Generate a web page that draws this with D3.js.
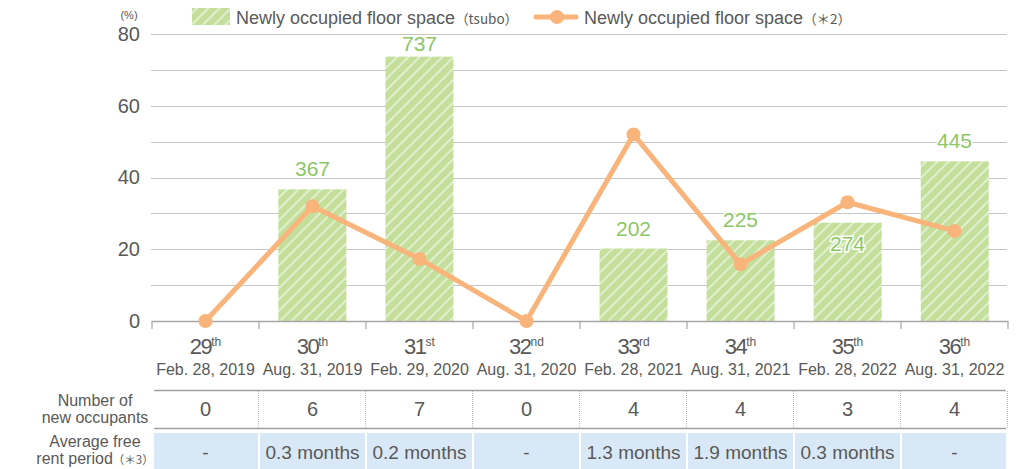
<!DOCTYPE html>
<html>
<head>
<meta charset="utf-8">
<script src="https://cdn.jsdelivr.net/npm/d3@7"></script>
<style>
  html, body { margin: 0; padding: 0; background: #fff; }
  svg { display: block; font-family: "Liberation Sans", Arial, Helvetica, sans-serif; }
  .cjk { font-family: "Noto Sans CJK JP", "Liberation Sans", sans-serif; }
</style>
</head>
<body>
<svg id="chart" width="1025" height="469"></svg>
<script>
// Fiscal periods
const periods = ["29", "30", "31", "32", "33", "34", "35", "36"];
const suffixes = ["th", "th", "st", "nd", "rd", "th", "th", "th"];
const dates = ["Feb. 28, 2019", "Aug. 31, 2019", "Feb. 29, 2020", "Aug. 31, 2020",
               "Feb. 28, 2021", "Aug. 31, 2021", "Feb. 28, 2022", "Aug. 31, 2022"];
// Newly occupied floor space (tsubo) — bars
const floorTsubo = [0, 367, 737, 0, 202, 225, 274, 445];
// Newly occupied floor space (%) — line
const floorPct = [0, 32, 17.3, 0, 52, 15.8, 33.1, 25.1];
// Table rows
const newOccupants = ["0", "6", "7", "0", "4", "4", "3", "4"];
const freeRent = ["-", "0.3 months", "0.2 months", "-", "1.3 months", "1.9 months", "0.3 months", "-"];
const yTicks = [0, 20, 40, 60, 80];
const gridValues = [10, 20, 30, 40, 50, 60, 70, 80];

const svg = d3.select("#chart");
const textColor = "#595959";
const green = "#c3df99";
const greenText = "#8cc665";
const orange = "#f9b47b";

const plotLeft = 152, plotRight = 1008, plotTop = 34, plotBottom = 321;

const x = d3.scaleBand().domain(periods).range([plotLeft, plotRight]).paddingInner(0.365).paddingOuter(0.18);
const band = d3.scaleBand().domain(periods).range([plotLeft, plotRight]);
const y = d3.scaleLinear().domain([0, 80]).range([plotBottom, plotTop]);
const yBar = d3.scaleLinear().domain([0, 800]).range([plotBottom, plotTop]);

// stripe pattern for bars
const defs = svg.append("defs");
const pat = defs.append("pattern")
  .attr("id", "stripes").attr("patternUnits", "userSpaceOnUse")
  .attr("width", 8).attr("height", 8)
  .attr("patternTransform", "rotate(45)");
pat.append("rect").attr("width", 8).attr("height", 8).attr("fill", green);
pat.append("rect").attr("x", 0).attr("width", 2).attr("height", 8).attr("fill", "#e0efcf");

// gridlines
svg.append("g").selectAll("line").data(gridValues).join("line")
  .attr("x1", plotLeft - 1).attr("x2", plotRight - 1)
  .attr("y1", d => Math.round(y(d)) + 0.5).attr("y2", d => Math.round(y(d)) + 0.5)
  .attr("stroke", "#c6c6c6").attr("stroke-width", 1.2);

// y axis labels
const yAxis = d3.axisLeft(y).tickValues(yTicks).tickSize(0).tickPadding(12);
const yg = svg.append("g").attr("transform", `translate(${plotLeft},0)`).call(yAxis);
yg.select(".domain").remove();
yg.selectAll("text").attr("fill", textColor).attr("font-size", 20)
  .attr("font-family", "Liberation Sans, Arial, sans-serif");

svg.append("text").attr("x", 129).attr("y", 19).attr("text-anchor", "middle")
  .attr("fill", textColor).attr("font-size", 11).text("(%)");

// bars
svg.append("g").selectAll("rect").data(periods).join("rect")
  .attr("x", d => x(d)).attr("width", x.bandwidth())
  .attr("y", (d, i) => yBar(floorTsubo[i]))
  .attr("height", (d, i) => plotBottom - yBar(floorTsubo[i]))
  .attr("fill", "url(#stripes)");

// x axis baseline and ticks
svg.append("line").attr("x1", plotLeft).attr("x2", plotRight).attr("y1", plotBottom + 0.5).attr("y2", plotBottom + 0.5)
  .attr("stroke", "#a6a6a6").attr("stroke-width", 1.5);
svg.append("g").selectAll("line").data(d3.range(periods.length + 1)).join("line")
  .attr("x1", i => plotLeft + i * band.bandwidth()).attr("x2", i => plotLeft + i * band.bandwidth())
  .attr("y1", plotBottom).attr("y2", plotBottom + 8)
  .attr("stroke", "#a6a6a6").attr("stroke-width", 1.2);

// line series
const cx = d => band(d) + band.bandwidth() / 2;
const line = d3.line().x((d, i) => cx(periods[i])).y(d => y(d));
svg.append("path").datum(floorPct).attr("d", line)
  .attr("fill", "none").attr("stroke", orange).attr("stroke-width", 5).attr("stroke-linejoin", "round");
svg.append("g").selectAll("circle").data(floorPct).join("circle")
  .attr("cx", (d, i) => cx(periods[i])).attr("cy", d => y(d)).attr("r", 7)
  .attr("fill", orange);

// bar value labels (kept below the legend; the 35th label sits inside its bar)
const labelData = floorTsubo.map((v, i) => ({ v, i })).filter(d => d.v > 0);
svg.append("g").selectAll("text").data(labelData).join("text")
  .attr("x", d => cx(periods[d.i]))
  .attr("y", d => d.i === 6 ? yBar(d.v) + 28 : Math.max(yBar(d.v) - 13, 51))
  .attr("text-anchor", "middle").attr("font-size", 21)
  .attr("fill", greenText)
  .attr("stroke", "#fff").attr("stroke-width", 3).attr("paint-order", "stroke")
  .text(d => d.v);

// x labels: ordinal + date
const xl = svg.append("g");
periods.forEach((p, i) => {
  const t = xl.append("text").attr("x", cx(p)).attr("y", 354).attr("text-anchor", "middle")
    .attr("fill", textColor).attr("font-size", 22).attr("letter-spacing", -1.5);
  t.append("tspan").text(p);
  t.append("tspan").attr("font-size", 12).attr("letter-spacing", 0).attr("dy", -8).text(suffixes[i]);
  xl.append("text").attr("x", cx(p)).attr("y", 375).attr("text-anchor", "middle")
    .attr("fill", textColor).attr("font-size", 16).text(dates[i]);
});

// table
const tbl = svg.append("g");
tbl.append("line").attr("x1", 154).attr("x2", 1006).attr("y1", 390.5).attr("y2", 390.5)
  .attr("stroke", "#a0a0a0").attr("stroke-width", 1.4);
tbl.append("line").attr("x1", 154).attr("x2", 1006).attr("y1", 428.5).attr("y2", 428.5)
  .attr("stroke", "#a0a0a0").attr("stroke-width", 1.4);
d3.range(1, periods.length + 1).forEach(i => {
  const xx = Math.round(plotLeft + i * band.bandwidth()) - 0.5;
  tbl.append("line").attr("x1", xx).attr("x2", xx).attr("y1", 391).attr("y2", 428)
    .attr("stroke", "#b8b8b8").attr("stroke-dasharray", "1,1");
});
periods.forEach((p, i) => {
  const x0 = band(p) + (i === 0 ? 2 : 1);
  const x1 = band(p) + band.bandwidth() - (i === periods.length - 1 ? 2 : 1);
  tbl.append("rect").attr("x", x0).attr("y", 433)
    .attr("width", x1 - x0).attr("height", 36)
    .attr("fill", "#d9e8f6");
  tbl.append("text").attr("x", cx(p)).attr("y", 416).attr("text-anchor", "middle")
    .attr("fill", textColor).attr("font-size", 20).text(newOccupants[i]);
  tbl.append("text").attr("x", cx(p)).attr("y", 459).attr("text-anchor", "middle")
    .attr("fill", textColor).attr("font-size", 19).text(freeRent[i]);
});
const rh = [["Number of", "new occupants", 406, 423], ["Average free", "rent period", 447, 464]];
rh.forEach(([a, b, y1, y2], k) => {
  tbl.append("text").attr("x", 95).attr("y", y1).attr("text-anchor", "middle")
    .attr("fill", textColor).attr("font-size", 16).text(a);
  const t = tbl.append("text").attr("x", 95).attr("y", y2).attr("text-anchor", "middle")
    .attr("fill", textColor).attr("font-size", 16).text(b);
  if (k === 1) t.append("tspan").attr("class", "cjk").attr("font-size", 11.5).text("（\uFF0A3）");
});

// legend
const lg = svg.append("g");
lg.append("rect").attr("x", 192).attr("y", 8).attr("width", 38).attr("height", 17).attr("fill", "url(#stripes)");
const l1 = lg.append("text").attr("x", 236).attr("y", 24).attr("fill", textColor).attr("font-size", 18);
l1.append("tspan").text("Newly occupied floor space");
l1.append("tspan").attr("class", "cjk").attr("font-size", 13.5).text("（tsubo）");
lg.append("line").attr("x1", 536).attr("x2", 576).attr("y1", 17).attr("y2", 17)
  .attr("stroke", orange).attr("stroke-width", 5).attr("stroke-linecap", "round");
lg.append("circle").attr("cx", 557).attr("cy", 17).attr("r", 7).attr("fill", orange);
const l2 = lg.append("text").attr("x", 584).attr("y", 24).attr("fill", textColor).attr("font-size", 18);
l2.append("tspan").text("Newly occupied floor space");
l2.append("tspan").attr("class", "cjk").attr("font-size", 13.5).text("（\uFF0A2）");
</script>
</body>
</html>
